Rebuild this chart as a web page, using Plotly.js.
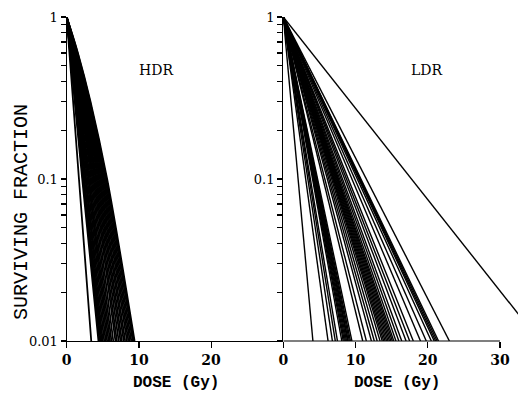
<!DOCTYPE html>
<html>
<head>
<meta charset="utf-8">
<script src="https://cdn.plot.ly/plotly-3.0.1.min.js"></script>
<style>html,body{margin:0;padding:0;background:#fff;}#chart{width:518px;height:394px;}</style>
</head>
<body>
<div id="chart"></div>
<script>
// HDR: surviving-fraction levels and dose (Gy) read for each curve at those levels
const hdrS = [1, 0.6, 0.3, 0.1, 0.01];
const hdrD60 = [0.38,0.48,0.50,0.52,0.55,0.60,0.62,0.67,0.71,0.73,0.78,0.83,0.87,0.91,0.95,0.99,1.03,1.09,1.13,1.18,1.22,1.28,1.34,1.39,1.44,1.51,1.55];
const hdrD30 = [0.89,1.12,1.18,1.23,1.29,1.39,1.44,1.54,1.63,1.68,1.77,1.88,1.96,2.04,2.13,2.22,2.31,2.42,2.50,2.61,2.69,2.80,2.90,3.01,3.11,3.23,3.30];
const hdrD10 = [1.70,2.15,2.25,2.35,2.45,2.60,2.70,2.85,3.00,3.10,3.25,3.40,3.55,3.70,3.85,4.00,4.15,4.30,4.45,4.60,4.75,4.90,5.05,5.20,5.35,5.50,5.60];
const hdrD1  = [3.40,4.40,4.55,4.70,4.85,5.00,5.20,5.40,5.60,5.80,6.00,6.20,6.45,6.75,6.95,7.20,7.45,7.65,7.90,8.10,8.35,8.55,8.75,8.95,9.15,9.30,9.40];

// LDR: straight lines from S=1 at 0 Gy to S=0.01 at the read dose
const ldrS = [1, 0.01];
const ldrEndDose = [4.1,6.2,6.8,7.2,7.5,8.1,8.3,8.45,8.6,8.75,8.9,9.0,9.15,9.3,9.5,11.0,11.5,12.2,12.6,13.0,13.4,13.7,13.9,14.1,14.3,14.5,14.7,14.9,15.1,15.3,15.6,16.0,16.4,17.0,17.5,18.0,19.0,19.8,20.5,20.9,21.1,21.3,21.5,23.0,35.5];

const yTickVals = [1,0.9,0.8,0.7,0.6,0.5,0.4,0.3,0.2,0.1,0.09,0.08,0.07,0.06,0.05,0.04,0.03,0.02,0.01];
const yTickTextLeft = ["1","","","","","","","","","0.1","","","","","","","","","0.01"];
const yTickTextRight = ["1","","","","","","","","","0.1","","","","","","","","",""];
const xTickLeft = [0, 10, 20];
const xTickRight = [0, 10, 20, 30];

const traces = [];
for (let i = 0; i < hdrD1.length; i++) {
  traces.push({
    x: [0, hdrD60[i], hdrD30[i], hdrD10[i], hdrD1[i]],
    y: hdrS,
    xaxis: 'x', yaxis: 'y',
    mode: 'lines',
    line: {color: '#000', width: 1.8, shape: 'spline', smoothing: 1},
    hoverinfo: 'skip'
  });
}
for (let i = 0; i < ldrEndDose.length; i++) {
  traces.push({
    x: [0, ldrEndDose[i]],
    y: ldrS,
    xaxis: 'x2', yaxis: 'y2',
    mode: 'lines',
    line: {color: '#000', width: 1.4},
    hoverinfo: 'skip'
  });
}

const serif = 'DejaVu Serif, serif';
const ydom = [1 - 341/394, 1 - 17/394];
const xsplit = 283.3/518;
const yAxisBase = {
  type: 'log', range: [-2, 0], domain: ydom,
  showline: true, linecolor: '#000', linewidth: 1.2, mirror: false,
  ticks: 'outside', ticklen: 5, tickwidth: 1.2, tickcolor: '#000',
  tickmode: 'array', tickvals: yTickVals,
  showgrid: false, zeroline: false,
  tickfont: {family: serif, size: 13, color: '#000'}
};
const xAxisBase = {
  showgrid: false, zeroline: false,
  ticks: 'outside', ticklen: 6, tickwidth: 1.2, tickcolor: '#000',
  tickmode: 'array',
  tickfont: {family: serif, size: 14, color: '#000', weight: 'bold'}
};

const layout = {
  width: 518, height: 394,
  margin: {l: 0, r: 0, t: 0, b: 0},
  paper_bgcolor: '#fff', plot_bgcolor: 'rgba(0,0,0,0)',
  showlegend: false,
  xaxis: Object.assign({}, xAxisBase, {
    domain: [66.7/518, xsplit], range: [0, 30], anchor: 'y',
    showline: true, linecolor: '#000', linewidth: 1.2,
    tickvals: xTickLeft, ticktext: xTickLeft.map(String)
  }),
  yaxis: Object.assign({}, yAxisBase, {anchor: 'x', ticktext: yTickTextLeft}),
  xaxis2: Object.assign({}, xAxisBase, {
    domain: [xsplit, 1], range: [0, 32.5], anchor: 'y2',
    showline: false,
    tickvals: xTickRight, ticktext: xTickRight.map(String)
  }),
  yaxis2: Object.assign({}, yAxisBase, {anchor: 'x2', ticktext: yTickTextRight}),
  shapes: [{
    type: 'line', xref: 'x2', yref: 'y2 domain',
    x0: 0, x1: 30, y0: 0, y1: 0,
    line: {color: '#000', width: 1.2}
  }],
  annotations: [
    {text: 'HDR', x: 156/518, y: 1 - 70/394, xref: 'paper', yref: 'paper', showarrow: false,
     xanchor: 'center', yanchor: 'middle', font: {family: serif, size: 14, color: '#000'}},
    {text: 'LDR', x: 427/518, y: 1 - 70/394, xref: 'paper', yref: 'paper', showarrow: false,
     xanchor: 'center', yanchor: 'middle', font: {family: serif, size: 14, color: '#000'}},
    {text: 'DOSE (Gy)', x: 176/518, y: 1 - 383/394, xref: 'paper', yref: 'paper', showarrow: false,
     xanchor: 'center', yanchor: 'middle', font: {family: 'Liberation Mono, monospace', size: 16, color: '#000', weight: 'bold'}},
    {text: 'DOSE (Gy)', x: 397/518, y: 1 - 383/394, xref: 'paper', yref: 'paper', showarrow: false,
     xanchor: 'center', yanchor: 'middle', font: {family: 'Liberation Mono, monospace', size: 16, color: '#000', weight: 'bold'}},
    {text: 'SURVIVING FRACTION', x: 22/518, y: 1 - 212/394, xref: 'paper', yref: 'paper', showarrow: false,
     textangle: -90, xanchor: 'center', yanchor: 'middle', font: {family: 'Liberation Mono, monospace', size: 20, color: '#000'}}
  ]
};

Plotly.newPlot('chart', traces, layout, {staticPlot: true, displayModeBar: false});
</script>
</body>
</html>
